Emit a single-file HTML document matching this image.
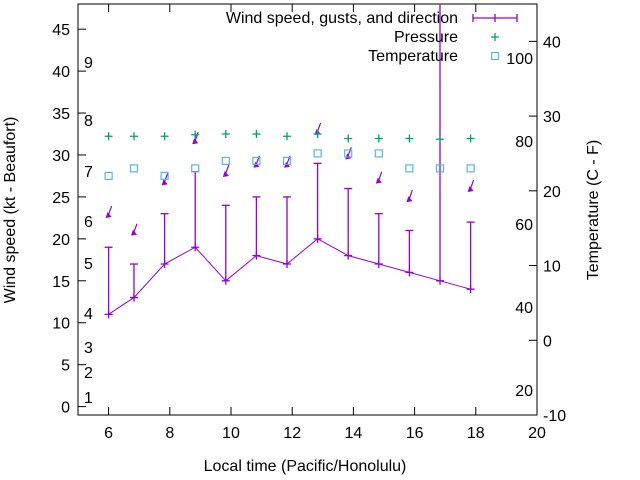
<!DOCTYPE html>
<html><head><meta charset="utf-8"><style>
body{margin:0;background:#fff}
svg{display:block;font-family:"Liberation Sans",sans-serif}
</style></head><body>
<svg id="c" width="640" height="480"></svg>
<script>
const hours=[6,6.83,7.83,8.83,9.83,10.83,11.83,12.83,13.83,14.83,15.83,16.83,17.83];
const windSpeed=[11,13,17,19,15,18,17,20,18,17,16,15,14];
const gusts=[19,17,23,28,24,25,25,29,26,23,21,60,22];
const arrowPos=[22.6,20.5,26.5,31.4,27.5,28.6,28.6,32.5,29.6,26.7,24.5,null,25.7];
const pressure=[27.3,27.3,27.3,27.5,27.6,27.6,27.3,27.6,27.0,27.0,27.0,26.9,27.0];
const temperature=[22,23,22,23,24,24,24,25,25,25,23,23,23];
const xTicks=[6,8,10,12,14,16,18,20];
const yTicks=[0,5,10,15,20,25,30,35,40,45];
const y2Ticks=[-10,0,10,20,30,40];
const fLabels=[20,40,60,80,100];
const bLabels=[["1",397],["2",372],["3",347],["4",313],["5",263],["6",221],["7",171],["8",120],["9",62]];
const L=78,R=537,T=4,B=415;
const X=v=>L+(v-5)/15*(R-L);
const Y=v=>B-(v+1)/49*(B-T);
const Y2=v=>B-(v+10)/55*(B-T);
const svg=document.getElementById('c');const NS="http://www.w3.org/2000/svg";
function el(tag,a,p){const e=document.createElementNS(NS,tag);for(const k in a)e.setAttribute(k,a[k]);(p||svg).appendChild(e);return e;}
function txt(s,a){const e=el('text',Object.assign({'font-size':16,fill:'#000'},a));e.textContent=s;return e;}
const clip=el('clipPath',{id:'pc'});el('rect',{x:L,y:T,width:R-L,height:B-T},clip);
let f=el('rect',{x:L,y:T,width:R-L,height:B-T,fill:'none',stroke:'#000','stroke-width':1});

xTicks.forEach(v=>{const x=X(v);el('line',{x1:x,x2:x,y1:B,y2:B-8,stroke:'#000'});el('line',{x1:x,x2:x,y1:T,y2:T+8,stroke:'#000'});
 const t=txt(v,{x:x,y:B+23,'text-anchor':'middle'});});
yTicks.forEach(v=>{const y=Y(v);el('line',{x1:L,x2:L+8,y1:y,y2:y,stroke:'#000'});
 const t=txt(v,{x:L-8,y:y+6,'text-anchor':'end'});});
y2Ticks.forEach(v=>{const y=Y2(v);el('line',{x1:R,x2:R-8,y1:y,y2:y,stroke:'#000'});
 const t=txt(v,{x:R+6,y:y+6});});
fLabels.forEach(v=>{const t=txt(v,{x:533,y:Y2((v-32)/1.8)+6,'text-anchor':'end'});});
bLabels.forEach(b=>{const t=txt(b[0],{x:84,y:b[1]+6});});
let t=txt('Local time (Pacific/Honolulu)',{x:305,y:471,'text-anchor':'middle'});
t=txt('Wind speed (kt - Beaufort)',{x:0,y:0,'text-anchor':'middle',transform:'translate(15,210) rotate(-90)'});
t=txt('Temperature (C - F)',{x:0,y:0,'text-anchor':'middle',transform:'translate(598,210) rotate(-90)'});
const g=el('g',{'clip-path':'url(#pc)'});
const P='#9400d3',G='#009e73',BL='#56b4e9';
el('polyline',{points:hours.map((h,i)=>X(h)+','+Y(windSpeed[i])).join(' '),fill:'none',stroke:P,'stroke-width':1},g);
hours.forEach((h,i)=>{const x=X(h),y1=Y(windSpeed[i]),y2=Y(gusts[i]);
 const l=el('line',{x1:x,x2:x,y1:y1,y2:y2,stroke:P,'stroke-width':1.3},g);
 el('line',{x1:x-4,x2:x+4,y1:y2,y2:y2,stroke:P,'stroke-width':1.3},g);
 const m=el('path',{d:`M${x-4},${y1}h8M${x},${y1-4}v8`,stroke:P,'stroke-width':1.3},g);
 if(arrowPos[i]!=null){const ay=Y(arrowPos[i]);
  const a=el('g',{},g);
  el('line',{x1:x-1,y1:ay,x2:x+3,y2:ay-11,stroke:P,'stroke-width':1.2},a);
  el('path',{d:`M${x-3},${ay+1}L${x+3},${ay}L${x-1},${ay-5}Z`,fill:P},a);}
 const pp=el('path',{d:`M${X(h)-4},${Y2(pressure[i])}h8M${X(h)},${Y2(pressure[i])-4}v8`,stroke:G,'stroke-width':1.3},g);
 const tp=el('rect',{x:X(h)-3.5,y:Y2(temperature[i])-3.5,width:7,height:7,fill:'none',stroke:BL,'stroke-width':1.2},g);
});
const lg=el('g',{});
[['Wind speed, gusts, and direction',18],['Pressure',37],['Temperature',56]].forEach(e=>{const tt=el('text',{x:458,y:e[1]+5,'text-anchor':'end','font-size':16},lg);tt.textContent=e[0];});
el('path',{d:'M473,18h44M473,14v8M517,14v8M495,14v8',stroke:P,'stroke-width':1.3,fill:'none'},lg);
el('path',{d:'M491,37h8M495,33v8',stroke:G,'stroke-width':1.3},lg);
el('rect',{x:491.5,y:52.5,width:7,height:7,fill:'none',stroke:BL,'stroke-width':1.2},lg);
</script>
</body></html>
